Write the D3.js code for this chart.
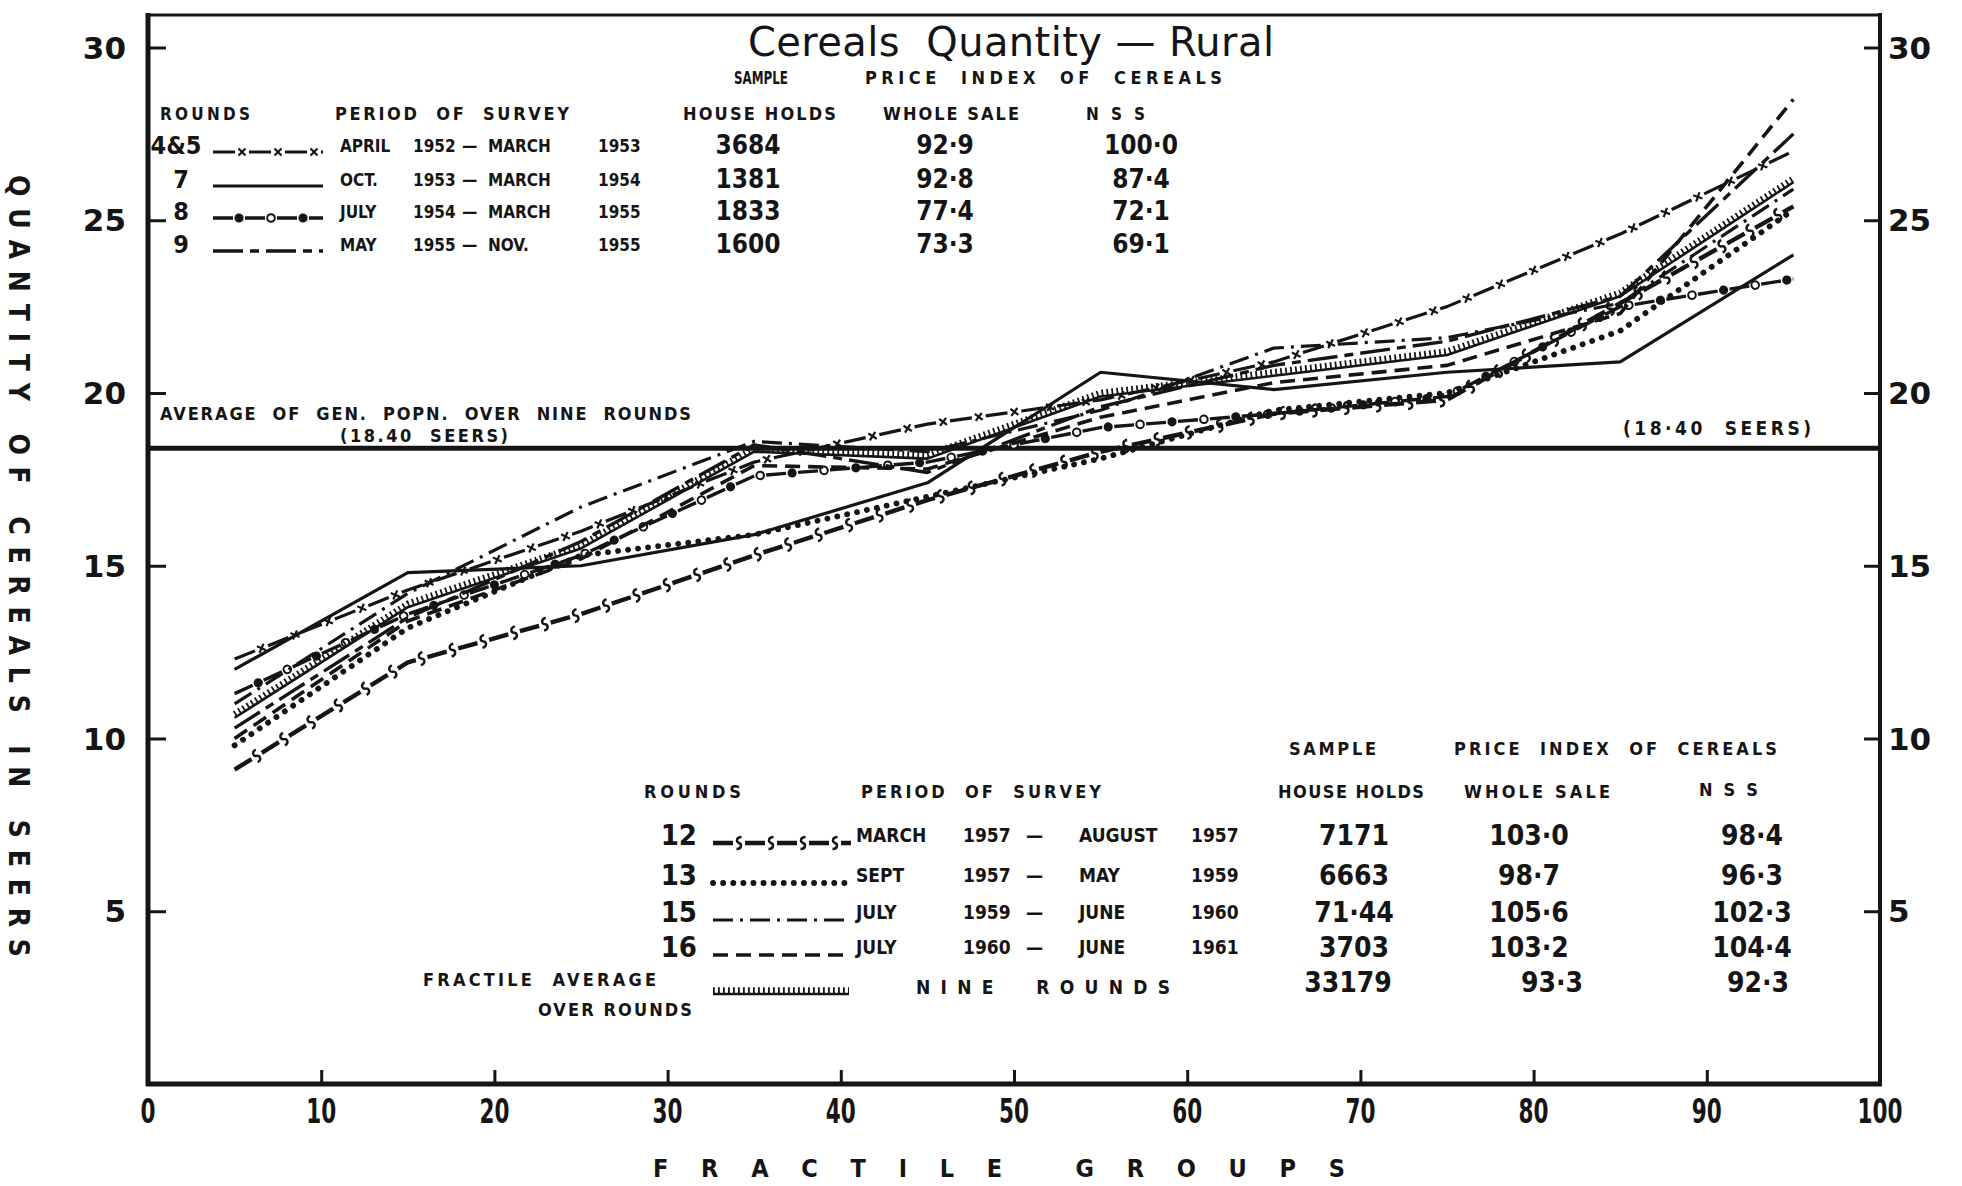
<!DOCTYPE html>
<html>
<head>
<meta charset="utf-8">
<script src="https://cdn.jsdelivr.net/npm/d3@7"></script>
<style>
html, body { margin: 0; padding: 0; background: #fff; }
svg { display: block; }
</style>
</head>
<body>
<div id="chart"></div>
<script>
// fractile group mid points and axis ticks
const fractiles = [5, 15, 25, 35, 45, 55, 65, 75, 85, 95];
const xTicks = [0, 10, 20, 30, 40, 50, 60, 70, 80, 90, 100];
const yTicks = [5, 10, 15, 20, 25, 30];
const genPopnAverage = 18.4;

// quantity of cereals (seers) per fractile group
const round4and5 = [12.3, 14.3, 16.0, 18.0, 19.1, 19.8, 20.9, 22.5, 24.6, 27.0];
const round7     = [12.0, 14.8, 15.0, 15.9, 17.4, 20.6, 20.1, 20.6, 20.9, 24.0];
const round8     = [11.3, 13.6, 15.3, 17.6, 18.0, 19.0, 19.4, 19.9, 22.5, 23.3];
const round9     = [10.3, 13.5, 15.7, 18.5, 17.7, 19.6, 20.8, 21.5, 22.8, 27.5];
const round12    = [9.1, 12.2, 13.6, 15.3, 16.9, 18.3, 19.4, 19.8, 22.6, 25.4];
const round13    = [9.8, 13.2, 15.3, 15.9, 17.0, 18.1, 19.5, 20.0, 21.8, 25.3];
const round15    = [11.0, 14.2, 16.7, 18.6, 18.3, 19.5, 21.3, 21.6, 22.6, 25.9];
const round16    = [10.0, 13.4, 15.2, 17.9, 17.8, 19.3, 20.3, 20.8, 22.3, 28.5];
const fractileAverage = [10.6, 13.8, 15.5, 18.3, 18.1, 19.9, 20.5, 21.1, 22.8, 26.1];

// legend tables
const upperRounds = ["4&5", "7", "8", "9"];
const upperStyles = ["cross", "solid", "ring", "longShort"];
const upperPeriods = [
  ["APRIL", "1952", "MARCH", "1953"],
  ["OCT.", "1953", "MARCH", "1954"],
  ["JULY", "1954", "MARCH", "1955"],
  ["MAY", "1955", "NOV.", "1955"]
];
const upperSample = ["3684", "1381", "1833", "1600"];
const upperWholesale = ["92·9", "92·8", "77·4", "73·3"];
const upperNss = ["100·0", "87·4", "72·1", "69·1"];

const lowerRounds = ["12", "13", "15", "16"];
const lowerStyles = ["ess", "dotted", "dashDot", "dashed"];
const lowerPeriods = [
  ["MARCH", "1957", "AUGUST", "1957"],
  ["SEPT", "1957", "MAY", "1959"],
  ["JULY", "1959", "JUNE", "1960"],
  ["JULY", "1960", "JUNE", "1961"]
];
const lowerSample = ["7171", "6663", "71·44", "3703"];
const lowerWholesale = ["103·0", "98·7", "105·6", "103·2"];
const lowerNss = ["98·4", "96·3", "102·3", "104·4"];
const averageRow = ["33179", "93·3", "92·3"];

const series = [
  { key: "4&5", style: "cross", values: round4and5 },
  { key: "7", style: "solid", values: round7 },
  { key: "8", style: "ring", values: round8 },
  { key: "9", style: "longShort", values: round9 },
  { key: "12", style: "ess", values: round12 },
  { key: "13", style: "dotted", values: round13 },
  { key: "15", style: "dashDot", values: round15 },
  { key: "16", style: "dashed", values: round16 },
  { key: "avg", style: "hatch", values: fractileAverage }
];

const INK = "#151515";
const BOLD = "'DejaVu Sans Condensed', 'DejaVu Sans', sans-serif";

const STYLES = {
  cross:     { dash: "22 14", width: 3.2, mark: "cross", step: 36, offset: 29 },
  solid:     { dash: null, width: 3.2 },
  ring:      { dash: "20 12", width: 3.4, mark: "ring", step: 32, offset: 26 },
  longShort: { dash: "30 7 9 7", width: 3.4 },
  ess:       { dash: "20 12", width: 4.4, mark: "ess", step: 32, offset: 26 },
  dotted:    { dash: "0.1 10", width: 5.8, cap: "round" },
  dashDot:   { dash: "20 7 3 7", width: 3.2 },
  dashed:    { dash: "15 8", width: 3.6 },
  hatch:     { dash: null, width: 2.6, mark: "hatch" }
};

const width = 1962, height = 1186;
const svg = d3.select("#chart").append("svg")
  .attr("width", width).attr("height", height)
  .attr("viewBox", `0 0 ${width} ${height}`);
svg.append("rect").attr("width", width).attr("height", height).attr("fill", "#fff");

const x = d3.scaleLinear().domain([0, 100]).range([148, 1880]);
const y = d3.scaleLinear().domain([0, 30]).range([1084, 47.5]);
const frameTop = 15;

function pointsAlong(node, step, offset) {
  const len = node.getTotalLength();
  const pts = [];
  for (let s = offset; s < len - 4; s += step) {
    const p = node.getPointAtLength(s);
    const q = node.getPointAtLength(Math.min(len, s + 2));
    pts.push({ x: p.x, y: p.y, a: Math.atan2(q.y - p.y, q.x - p.x) * 180 / Math.PI });
  }
  return pts;
}

function drawStyled(g, d, key) {
  const st = STYLES[key];
  const p = g.append("path")
    .attr("d", d)
    .attr("fill", "none")
    .attr("stroke", INK)
    .attr("stroke-width", st.width)
    .attr("stroke-linejoin", "round")
    .attr("stroke-linecap", st.cap || "butt");
  if (st.dash) p.attr("stroke-dasharray", st.dash);

  if (st.mark === "hatch") {
    g.append("path")
      .attr("d", d)
      .attr("transform", "translate(0,-3.5)")
      .attr("fill", "none")
      .attr("stroke", INK)
      .attr("stroke-width", 6.5)
      .attr("stroke-dasharray", "1.8 3.2");
    return;
  }
  if (!st.mark) return;

  pointsAlong(p.node(), st.step, st.offset).forEach((pt, i) => {
    const m = g.append("g").attr("transform", `translate(${pt.x},${pt.y}) rotate(${pt.a})`);
    if (st.mark === "cross") {
      m.append("path").attr("d", "M-3.5,-3.5L3.5,3.5M-3.5,3.5L3.5,-3.5")
        .attr("stroke", INK).attr("stroke-width", 2.2);
    } else if (st.mark === "ring") {
      m.append("circle").attr("r", i % 2 ? 3.8 : 3.6)
        .attr("fill", i % 2 ? "#fff" : INK)
        .attr("stroke", INK).attr("stroke-width", 2);
    } else if (st.mark === "ess") {
      m.append("path").attr("d", "M2.5,-6 C-3,-6 -3,-1 0,0 C3,1 3,6 -2.5,6")
        .attr("fill", "none").attr("stroke", INK).attr("stroke-width", 2.4);
    }
  });
}

function label(g, tx, ty, txt, o = {}) {
  const t = g.append("text")
    .attr("x", tx).attr("y", ty)
    .attr("fill", INK)
    .attr("font-family", o.family || BOLD)
    .attr("font-weight", o.weight || "bold")
    .attr("font-size", o.size || 17)
    .attr("text-anchor", o.anchor || "start")
    .style("white-space", "pre")
    .text(txt);
  if (o.len) t.attr("textLength", o.len).attr("lengthAdjust", o.adjust || "spacing");
  return t;
}

// average of general population
svg.append("line")
  .attr("x1", x(0)).attr("x2", x(100))
  .attr("y1", y(genPopnAverage)).attr("y2", y(genPopnAverage))
  .attr("stroke", INK).attr("stroke-width", 5);

// the series
const line = d3.line().x((d, i) => x(fractiles[i])).y(d => y(d));
const lines = svg.append("g").attr("class", "series");
series.forEach(s => drawStyled(lines, line(s.values), s.style));

// frame and axes
const frame = svg.append("g");
frame.append("line").attr("x1", x(0)).attr("x2", x(100)).attr("y1", frameTop).attr("y2", frameTop)
  .attr("stroke", INK).attr("stroke-width", 3);
frame.append("line").attr("x1", x(0)).attr("x2", x(0)).attr("y1", frameTop - 2).attr("y2", y(0) + 2)
  .attr("stroke", INK).attr("stroke-width", 5);
frame.append("line").attr("x1", x(100)).attr("x2", x(100)).attr("y1", frameTop - 2).attr("y2", y(0) + 2)
  .attr("stroke", INK).attr("stroke-width", 4);
frame.append("line").attr("x1", x(0) - 2).attr("x2", x(100) + 2).attr("y1", y(0)).attr("y2", y(0))
  .attr("stroke", INK).attr("stroke-width", 5);

const leftAxis = svg.append("g").attr("transform", `translate(${x(0)},0)`)
  .call(d3.axisRight(y).tickValues(yTicks).tickSize(18).tickFormat(""));
const rightAxis = svg.append("g").attr("transform", `translate(${x(100)},0)`)
  .call(d3.axisLeft(y).tickValues(yTicks).tickSize(16).tickFormat(""));
const bottomAxis = svg.append("g").attr("transform", `translate(0,${y(0)})`)
  .call(d3.axisTop(x).tickValues(xTicks.slice(1, -1)).tickSize(14).tickFormat(""));
[leftAxis, rightAxis, bottomAxis].forEach(a => {
  a.select(".domain").remove();
  a.selectAll(".tick line").attr("stroke", INK).attr("stroke-width", 3);
});

yTicks.forEach(v => {
  label(svg, x(0) - 22, y(v) + 11, String(v), { size: 31, anchor: "end", family: "'DejaVu Sans', sans-serif" });
  label(svg, x(100) + 8, y(v) + 11, String(v), { size: 31, family: "'DejaVu Sans', sans-serif" });
});
xTicks.forEach(v => {
  const s = String(v);
  label(svg, x(v), 1123, s, { size: 33, anchor: "middle", len: 15 * s.length, adjust: "spacingAndGlyphs" });
});

// axis titles
svg.append("g").attr("transform", "translate(9,566) rotate(90)")
  .call(g => label(g, 0, 0, "QUANTITY OF CEREALS IN SEERS", { size: 28, anchor: "middle", len: 782 }));
label(svg, 999, 1177, "FRACTILE GROUPS", { size: 25, anchor: "middle", len: 692 });

// title
label(svg, 1011, 56, "Cereals  Quantity — Rural",
  { size: 40, anchor: "middle", weight: "normal", family: "'DejaVu Sans', sans-serif", len: 526 });

// average line labels
label(svg, 160, 420, "AVERAGE  OF  GEN.  POPN.  OVER  NINE  ROUNDS", { size: 18, len: 531 });
label(svg, 340, 442, "(18.40  SEERS)", { size: 18, len: 168 });
label(svg, 1623, 435, "(18·40  SEERS)", { size: 19, len: 188 });

// upper legend
const up = svg.append("g");
label(up, 734, 84, "SAMPLE", { size: 17, len: 54, adjust: "spacingAndGlyphs" });
label(up, 865, 84, "PRICE  INDEX  OF  CEREALS", { size: 18, len: 357 });
label(up, 160, 120, "ROUNDS", { size: 17, len: 90 });
label(up, 335, 120, "PERIOD  OF  SURVEY", { size: 18, len: 234 });
label(up, 683, 120, "HOUSE HOLDS", { size: 18, len: 153 });
label(up, 883, 120, "WHOLE SALE", { size: 18, len: 136 });
label(up, 1086, 120, "N S S", { size: 17, len: 59 });

const upperRowY = [145, 179, 211, 244];
upperRounds.forEach((r, i) => {
  const cy = upperRowY[i];
  label(up, i === 0 ? 176 : 181, cy + 9, r, { size: 25, anchor: "middle" });
  drawStyled(up, `M213,${cy + 7}H323`, upperStyles[i]);
  const per = upperPeriods[i];
  label(up, 340, cy + 7, per[0], { size: 17 });
  label(up, 413, cy + 7, per[1], { size: 17 });
  label(up, 462, cy + 7, "—", { size: 17 });
  label(up, 488, cy + 7, per[2], { size: 17 });
  label(up, 598, cy + 7, per[3], { size: 17 });
  label(up, 748, cy + 9, upperSample[i], { size: 26, anchor: "middle" });
  label(up, 945, cy + 9, upperWholesale[i], { size: 26, anchor: "middle" });
  label(up, 1141, cy + 9, upperNss[i], { size: 26, anchor: "middle" });
});

// lower legend
const lo = svg.append("g");
label(lo, 1289, 755, "SAMPLE", { size: 18, len: 87 });
label(lo, 1454, 755, "PRICE  INDEX  OF  CEREALS", { size: 18, len: 323 });
label(lo, 644, 798, "ROUNDS", { size: 18, len: 97 });
label(lo, 861, 798, "PERIOD  OF  SURVEY", { size: 18, len: 240 });
label(lo, 1278, 798, "HOUSE HOLDS", { size: 18, len: 146 });
label(lo, 1464, 798, "WHOLE SALE", { size: 18, len: 146 });
label(lo, 1699, 796, "N S S", { size: 18, len: 59 });

const lowerRowY = [835, 875, 912, 947];
lowerRounds.forEach((r, i) => {
  const cy = lowerRowY[i];
  label(lo, 697, cy + 10, r, { size: 29, anchor: "end" });
  drawStyled(lo, `M713,${cy + 8}H851`, lowerStyles[i]);
  const per = lowerPeriods[i];
  label(lo, 856, cy + 7, per[0], { size: 19 });
  label(lo, 963, cy + 7, per[1], { size: 19 });
  label(lo, 1026, cy + 7, "—", { size: 19, len: 25 });
  label(lo, 1079, cy + 7, per[2], { size: 19 });
  label(lo, 1191, cy + 7, per[3], { size: 19 });
  label(lo, 1354, cy + 10, lowerSample[i], { size: 28, anchor: "middle" });
  label(lo, 1529, cy + 10, lowerWholesale[i], { size: 28, anchor: "middle" });
  label(lo, 1752, cy + 10, lowerNss[i], { size: 28, anchor: "middle" });
});
label(lo, 423, 986, "FRACTILE  AVERAGE", { size: 18, len: 233 });
label(lo, 538, 1016, "OVER ROUNDS", { size: 18, len: 154 });
drawStyled(lo, "M713,994H849", "hatch");
label(lo, 916, 994, "NINE  ROUNDS", { size: 19, len: 254 });
label(lo, 1348, 992, averageRow[0], { size: 28, anchor: "middle" });
label(lo, 1552, 992, averageRow[1], { size: 28, anchor: "middle" });
label(lo, 1758, 992, averageRow[2], { size: 28, anchor: "middle" });
</script>
</body>
</html>
